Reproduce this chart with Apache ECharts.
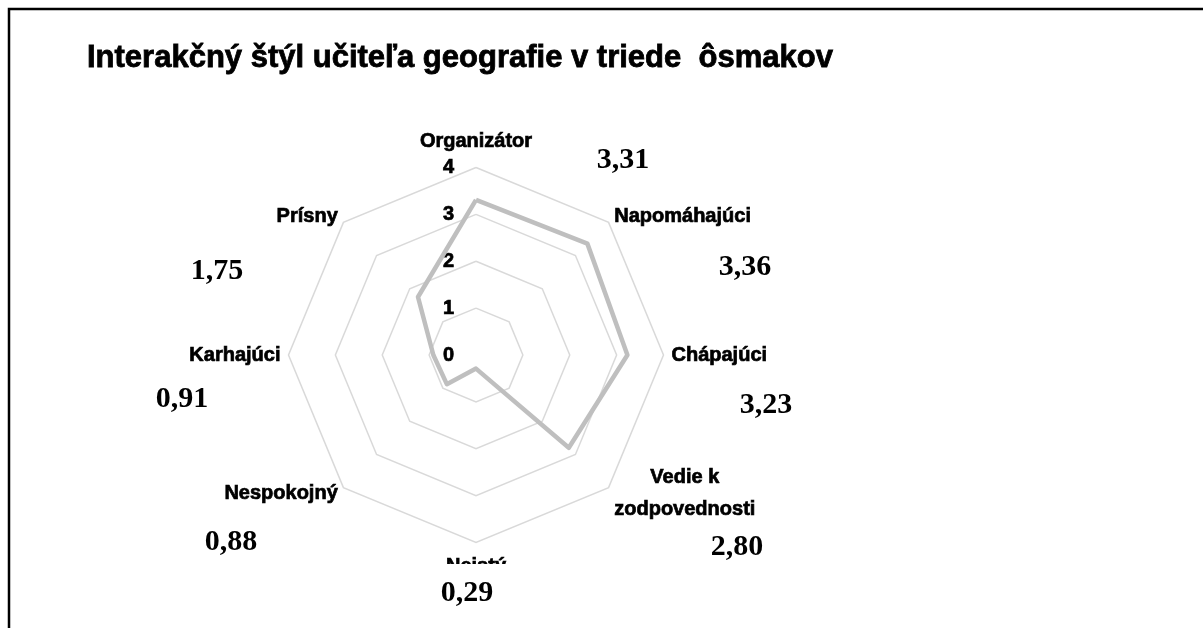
<!DOCTYPE html>
<html>
<head>
<meta charset="utf-8">
<script src="https://cdn.jsdelivr.net/npm/echarts@6/dist/echarts.min.js"></script>
<style>
  html, body { margin: 0; padding: 0; background: #fff; }
  #chart { width: 1203px; height: 628px; }
</style>
</head>
<body>
<div id="chart"></div>
<script>
// kategórie v poradí ako v origináli (v smere hodinových ručičiek od vrchu)
const categories = ['Organizátor', 'Napomáhajúci', 'Chápajúci', 'Vedie k\nzodpovednosti', 'Neistý', 'Nespokojný', 'Karhajúci', 'Prísny']
const values = [3.31, 3.36, 3.23, 2.80, 0.29, 0.88, 0.91, 1.75]
const axisMax = 4
const axisSplits = 4

// umiestnenie textových polí s hodnotami (stred textu)
const valueBoxes = [[623, 160], [745, 267], [766, 405], [737, 547], [467, 593], [231, 542], [182, 399], [217, 271]]

// echarts kreslí radar proti smeru hodinových ručičiek -> preusporiadať
const order = categories.map((c, i) => (categories.length - i) % categories.length)

const chart = echarts.init(document.getElementById('chart'))

const nameFont = {
  fontFamily: 'Liberation Sans',
  fontWeight: 'bold',
  fontSize: 20,
  color: '#000',
  textBorderColor: '#000',
  textBorderWidth: 0.7
}

const option = {
  backgroundColor: '#fff',
  animation: false,
  title: {
    text: 'Interakčný štýl učiteľa geografie v triede  ôsmakov',
    left: 82,
    top: 38,
    textStyle: {
      fontFamily: 'Liberation Sans',
      fontWeight: 'bold',
      fontSize: 31,
      color: '#000',
      textBorderColor: '#000',
      textBorderWidth: 0.8
    }
  },
  radar: {
    center: [476, 355],
    radius: 187.5,
    startAngle: 90,
    shape: 'polygon',
    splitNumber: axisSplits,
    nameGap: 8,
    axisName: Object.assign({
      lineHeight: 32,
      formatter: function (name) {
        return name.split('\n').map(l => '{c|' + l + '}').join('\n')
      },
      rich: {
        c: Object.assign({ align: 'center', lineHeight: 32 }, nameFont)
      }
    }, nameFont),
    indicator: order.map((k, i) => ({
      name: categories[k],
      min: 0,
      max: axisMax,
      axisLabel: { show: i === 0 }
    })),
    axisLine: { show: false },
    axisTick: { show: false },
    axisLabel: {
      show: false,
      margin: 22,
      fontFamily: 'Liberation Sans',
      fontWeight: 'bold',
      fontSize: 20,
      color: '#000',
      textBorderColor: '#000',
      textBorderWidth: 0.7
    },
    splitLine: { lineStyle: { color: '#d9d9d9', width: 1.5 } },
    splitArea: { show: false }
  },
  series: [{
    type: 'radar',
    symbol: 'none',
    lineStyle: { color: '#bfbfbf', width: 4.5 },
    data: [{ value: order.map(k => values[k]), name: 'Interakčný štýl' }]
  }],
  graphic: [
    // ramček snímky
    {
      type: 'polyline',
      shape: { points: [[9, 628], [9, 9], [1203, 9]] },
      style: { stroke: '#000', lineWidth: 2.5, fill: null },
      z: 100
    },
    // textové pole zakrýva spodok popisu "Neistý"
    {
      type: 'rect',
      shape: { x: 430, y: 564, width: 90, height: 20 },
      style: { fill: '#fff' },
      z: 100
    }
  ].concat(values.map((v, i) => ({
    type: 'text',
    x: valueBoxes[i][0],
    y: valueBoxes[i][1],
    z: 101,
    style: {
      text: v.toFixed(2).replace('.', ','),
      font: 'bold 30px "Liberation Serif"',
      fill: '#000',
      textAlign: 'center',
      textVerticalAlign: 'middle'
    }
  })))
}

chart.setOption(option)
</script>
</body>
</html>
